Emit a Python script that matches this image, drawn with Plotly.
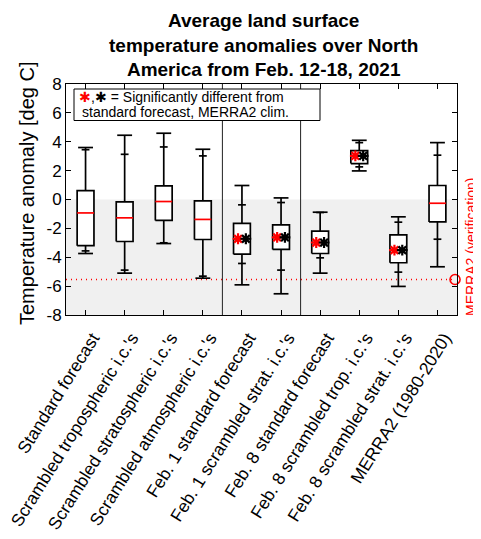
import plotly.graph_objects as go

# ---------------- data ----------------
categories = [
    "Standard forecast",
    "Scrambled tropospheric i.c.'s",
    "Scrambled stratospheric i.c.'s",
    "Scrambled atmospheric i.c.'s",
    "Feb. 1 standard forecast",
    "Feb. 1 scrambled strat. i.c.'s",
    "Feb. 8 standard forecast",
    "Feb. 8 scrambled trop. i.c.'s",
    "Feb. 8 scrambled strat. i.c.'s",
    "MERRA2 (1980-2020)",
]
positions = [1, 2, 3, 4, 5, 6, 7, 8, 9, 10]
whisker_max = [3.60, 4.45, 4.59, 3.48, 0.97, 0.11, -0.88, 4.10, -1.20, 3.94]
upper_tick = [3.45, 3.13, 3.64, 3.02, -0.37, -0.21, -0.90, 3.94, -1.57, 3.07]
q3 = [0.62, -0.17, 0.94, -0.10, -1.66, -1.76, -2.19, 3.39, -2.45, 0.97]
median = [-0.93, -1.27, -0.14, -1.38, -2.72, -2.63, -2.98, 3.02, -3.51, -0.26]
q1 = [-3.20, -2.91, -1.45, -2.77, -3.79, -3.46, -3.74, 2.49, -4.38, -1.55]
lower_tick = [-3.56, -4.89, -3.00, -5.31, -4.43, -4.89, -4.04, 2.26, -5.03, -2.75]
whisker_min = [-3.74, -5.10, -3.05, -5.45, -5.91, -6.53, -5.10, 1.98, -6.02, -4.66]
sig_vs_standard = [False, False, False, False, True, True, True, True, True, False]
sig_vs_clim = [False, False, False, False, True, True, True, True, True, False]
merra2_verification = -5.54
y_tick_values = [-8, -6, -4, -2, 0, 2, 4, 6, 8]
group_separators = [4.5, 6.5]

# ---------------- styling constants ----------------
FONT = "Liberation Sans, Arial, Helvetica, sans-serif"
BOX_HW = 0.215
CAP_HW = 0.19
TICK_HW = 0.10
MARK_DX = 0.10

fig = go.Figure()

# verification dotted line and marker
x_end = 10.45
fig.add_trace(go.Scatter(
    x=[0.5, x_end], y=[merra2_verification, merra2_verification],
    mode="lines", line=dict(color="#ff0000", width=1.5, dash="1px 4px"),
    hoverinfo="skip", showlegend=False))
fig.add_trace(go.Scatter(
    x=[x_end], y=[merra2_verification], mode="markers",
    marker=dict(symbol="circle-open", size=10, color="#ff0000",
                line=dict(width=1.6, color="#ff0000")),
    cliponaxis=False, hoverinfo="skip", showlegend=False))

# box polygons
bx, by = [], []
for p, lo, hi in zip(positions, q1, q3):
    bx += [p - BOX_HW, p + BOX_HW, p + BOX_HW, p - BOX_HW, p - BOX_HW, None]
    by += [lo, lo, hi, hi, lo, None]
fig.add_trace(go.Scatter(x=bx, y=by, mode="lines", fill="toself",
                         fillcolor="white", line=dict(color="black", width=1.7),
                         hoverinfo="skip", showlegend=False))

# whiskers
wx, wy = [], []
for p, a, b, c, d in zip(positions, q3, whisker_max, q1, whisker_min):
    wx += [p, p, None, p, p, None]
    wy += [a, b, None, c, d, None]
fig.add_trace(go.Scatter(x=wx, y=wy, mode="lines",
                         line=dict(color="black", width=1.7),
                         hoverinfo="skip", showlegend=False))

# wide caps at extremes
cx, cy = [], []
for p, hi, lo in zip(positions, whisker_max, whisker_min):
    cx += [p - CAP_HW, p + CAP_HW, None, p - CAP_HW, p + CAP_HW, None]
    cy += [hi, hi, None, lo, lo, None]
fig.add_trace(go.Scatter(x=cx, y=cy, mode="lines",
                         line=dict(color="black", width=1.7),
                         hoverinfo="skip", showlegend=False))

# narrow ticks
tx, ty = [], []
for p, hi, lo in zip(positions, upper_tick, lower_tick):
    tx += [p - TICK_HW, p + TICK_HW, None, p - TICK_HW, p + TICK_HW, None]
    ty += [hi, hi, None, lo, lo, None]
fig.add_trace(go.Scatter(x=tx, y=ty, mode="lines",
                         line=dict(color="black", width=1.7),
                         hoverinfo="skip", showlegend=False))

# medians
mrx, mry, mkx, mky = [], [], [], []
for p, m, s1, s2 in zip(positions, median, sig_vs_standard, sig_vs_clim):
    if s1 or s2:
        mkx += [p - BOX_HW, p + BOX_HW, None]
        mky += [m, m, None]
    else:
        mrx += [p - BOX_HW, p + BOX_HW, None]
        mry += [m, m, None]
fig.add_trace(go.Scatter(x=mrx, y=mry, mode="lines",
                         line=dict(color="#ff0000", width=1.7),
                         hoverinfo="skip", showlegend=False))
fig.add_trace(go.Scatter(x=mkx, y=mky, mode="lines",
                         line=dict(color="black", width=1.5),
                         hoverinfo="skip", showlegend=False))

# significance asterisks
rx = [p - MARK_DX for p, s in zip(positions, sig_vs_standard) if s]
ry = [m for m, s in zip(median, sig_vs_standard) if s]
kx = [p + MARK_DX for p, s in zip(positions, sig_vs_clim) if s]
ky = [m for m, s in zip(median, sig_vs_clim) if s]
fig.add_trace(go.Scatter(x=rx, y=ry, mode="markers",
                         marker=dict(symbol="asterisk-open", size=9, color="#ff0000",
                                     line=dict(color="#ff0000", width=2.2)),
                         hoverinfo="skip", showlegend=False))
fig.add_trace(go.Scatter(x=kx, y=ky, mode="markers",
                         marker=dict(symbol="asterisk-open", size=9, color="black",
                                     line=dict(color="black", width=2.2)),
                         hoverinfo="skip", showlegend=False))

# ---------------- layout geometry ----------------
# The HTML page body adds an 8px offset; the figure is sized to compensate.
PAGE_OFFSET = 8
PAGE_W, PAGE_H = 481, 539
L, R, T, B = 66, 24, 84, 224          # in page pixels
W, H = PAGE_W - PAGE_OFFSET, PAGE_H - PAGE_OFFSET
PW, PH = PAGE_W - L - R, PAGE_H - T - B


def px_x(px):
    return (px - L) / PW


def px_y(py):
    return (PAGE_H - B - py) / PH


shapes = [
    dict(type="rect", xref="paper", yref="y", x0=0, x1=1, y0=-8, y1=0,
         fillcolor="#f0f0f0", line=dict(width=0), layer="below"),
]
for s in group_separators:
    shapes.append(dict(type="line", xref="x", yref="paper", x0=s, x1=s,
                       y0=0, y1=1, line=dict(color="#222222", width=1)))
# legend box
shapes.append(dict(type="rect", xref="paper", yref="paper",
                   x0=px_x(74), x1=px_x(320), y0=px_y(120.5), y1=px_y(89),
                   fillcolor="white", line=dict(color="black", width=1)))

annotations = [
    dict(text="<b>Average land surface<br>temperature anomalies over North<br>America from Feb. 12-18, 2021</b>",
         xref="paper", yref="paper", x=px_x(263), y=px_y(45),
         xanchor="center", yanchor="middle", showarrow=False,
         font=dict(family=FONT, size=19, color="black")),
    dict(text="Temperature anomaly [deg C]", textangle=-90,
         xref="paper", yref="paper", x=px_x(27), y=px_y(194),
         xanchor="center", yanchor="middle", showarrow=False,
         font=dict(family=FONT, size=20, color="black")),
    dict(text="MERRA2 (verification)", textangle=-90,
         xref="paper", yref="paper", x=px_x(471), y=px_y(247),
         xanchor="center", yanchor="middle", showarrow=False,
         font=dict(family=FONT, size=14, color="#ff0000")),
    dict(text="<span style='color:#ff0000'>✱</span>,✱ = Significantly different from",
         xref="paper", yref="paper", x=px_x(77), y=px_y(97.5),
         xanchor="left", yanchor="middle", showarrow=False,
         font=dict(family=FONT, size=14, color="black")),
    dict(text="standard forecast, MERRA2 clim.",
         xref="paper", yref="paper", x=px_x(80), y=px_y(111.5),
         xanchor="left", yanchor="middle", showarrow=False,
         font=dict(family=FONT, size=14, color="black")),
]

fig.update_layout(
    width=W, height=H,
    margin=dict(l=L - PAGE_OFFSET, r=R, t=T - PAGE_OFFSET, b=B, autoexpand=False),
    paper_bgcolor="white", plot_bgcolor="white",
    font=dict(family=FONT, color="black"),
    shapes=shapes, annotations=annotations,
    showlegend=False,
    xaxis=dict(range=[0.5, 10.5], tickmode="array", tickvals=positions,
               ticktext=categories, tickangle=-58,
               tickfont=dict(family=FONT, size=17.5, color="black"),
               ticklabeloverflow="allow", ticklabelstandoff=5, ticklabelshift=7,
               showgrid=False, zeroline=False, showline=True,
               linecolor="black", linewidth=1, mirror="ticks",
               ticks="inside", ticklen=5, tickcolor="black", automargin=False),
    yaxis=dict(range=[-8, 8], tickmode="array", tickvals=y_tick_values,
               ticktext=[str(v) for v in y_tick_values],
               tickfont=dict(family=FONT, size=17, color="black"),
               showgrid=False, zeroline=False, showline=True,
               linecolor="black", linewidth=1, mirror="ticks",
               ticks="inside", ticklen=5, tickcolor="black", automargin=False),
)

fig.write_html("out.html")
